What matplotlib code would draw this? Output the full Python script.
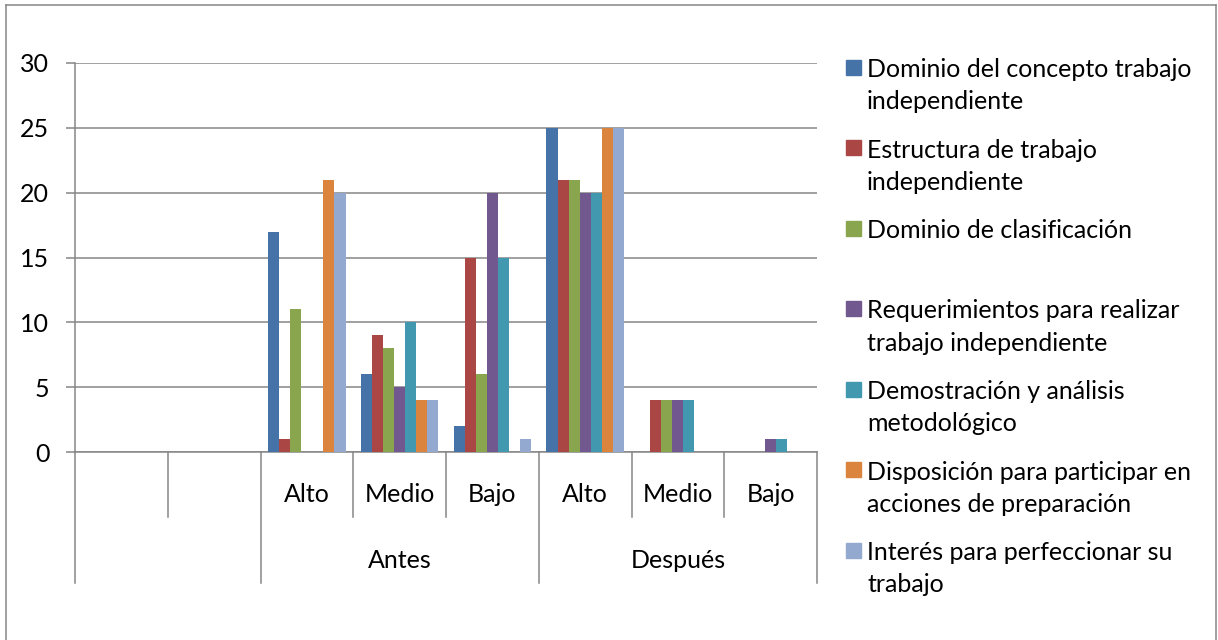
import numpy as np
import matplotlib.pyplot as plt
from matplotlib.transforms import blended_transform_factory
from matplotlib.patches import Rectangle
from matplotlib.lines import Line2D

plt.rcParams['font.family'] = ['Lato', 'DejaVu Sans']

# datos
niveles = ['', '', 'Alto', 'Medio', 'Bajo', 'Alto', 'Medio', 'Bajo']
grupos = ['Antes', 'Después']
series = ['Dominio del concepto trabajo\nindependiente',
          'Estructura de trabajo\nindependiente',
          'Dominio de clasificación',
          'Requerimientos para realizar\ntrabajo independiente',
          'Demostración y análisis\nmetodológico',
          'Disposición para participar en\nacciones de preparación',
          'Interés para perfeccionar su\ntrabajo']
dominio = [0, 0, 17, 6, 2, 25, 0, 0]
estructura = [0, 0, 1, 9, 15, 21, 4, 0]
clasificacion = [0, 0, 11, 8, 6, 21, 4, 0]
requerimientos = [0, 0, 0, 5, 20, 20, 4, 1]
demostracion = [0, 0, 0, 10, 15, 20, 4, 1]
disposicion = [0, 0, 21, 4, 0, 25, 0, 0]
interes = [0, 0, 20, 4, 1, 25, 0, 0]
valores = [dominio, estructura, clasificacion, requerimientos,
           demostracion, disposicion, interes]
colores = ['#4572A7', '#AA4643', '#89A54E', '#71588F', '#4198AF', '#DB843D', '#93A9CF']

W, H = 1218, 640
fs = 18
fig = plt.figure(figsize=(W / 100, H / 100), dpi=100)
ax = fig.add_axes([75 / W, 1 - 452 / H, (817 - 75) / W, (452 - 63) / H])

grid_c = '#868686'
n = len(niveles)
x = np.arange(n) + 0.5
w = 0.119
for j, vals in enumerate(valores):
    v = np.array(vals, dtype=float)
    v[v == 0] = np.nan
    ax.bar(x + (j - 3) * w, v, width=w, color=colores[j], edgecolor='none', zorder=3)

ax.set_xlim(0, n)
ax.set_ylim(0, 30)
ax.set_yticks([0, 5, 10, 15, 20, 25, 30])
ax.yaxis.grid(True, color=grid_c, linewidth=1.1, zorder=0)
ax.set_xticks([])
for s in ['top', 'right']:
    ax.spines[s].set_visible(False)
for s in ['left', 'bottom']:
    ax.spines[s].set_color(grid_c)
    ax.spines[s].set_linewidth(1.1)
ax.tick_params(axis='y', length=6.5, width=1.1, color=grid_c, pad=12, labelsize=fs)

# ejes de categorías en dos niveles
tr = blended_transform_factory(ax.transData, fig.transFigure)
y0 = 1 - 452 / H
y1 = 1 - 517 / H
y2 = 1 - 583 / H
for b in range(n + 1):
    largo = b in (0, 2, 5, 8)
    ax.plot([b, b], [y0, y2 if largo else y1], transform=tr, color=grid_c,
            lw=1.1, clip_on=False)
for i, lab in enumerate(niveles):
    ax.text(x[i], 1 - 495 / H, lab, transform=tr, ha='center', va='center', fontsize=fs)
ax.text(3.5, 1 - 561 / H, grupos[0], transform=tr, ha='center', va='center', fontsize=fs)
ax.text(6.5, 1 - 561 / H, grupos[1], transform=tr, ha='center', va='center', fontsize=fs)

# leyenda
for j, lab in enumerate(series):
    yc = 67 + j * 80.5
    fig.patches.append(Rectangle((846 / W, 1 - (yc + 7.5) / H), 15 / W, 15 / H,
                                 transform=fig.transFigure, color=colores[j]))
    fig.text(867 / W, 1 - (yc - 9) / H, lab, ha='left', va='top', fontsize=fs,
             linespacing=1.48)

# marco
for xs, ys in [([6, 6], [H, 5]), ([6, 1216], [5, 5]), ([1216, 1216], [5, H])]:
    fig.lines.append(Line2D([v / W for v in xs], [1 - v / H for v in ys],
                            transform=fig.transFigure, color=grid_c, lw=1.1))

fig.savefig('out.png', dpi=100, facecolor='white')
